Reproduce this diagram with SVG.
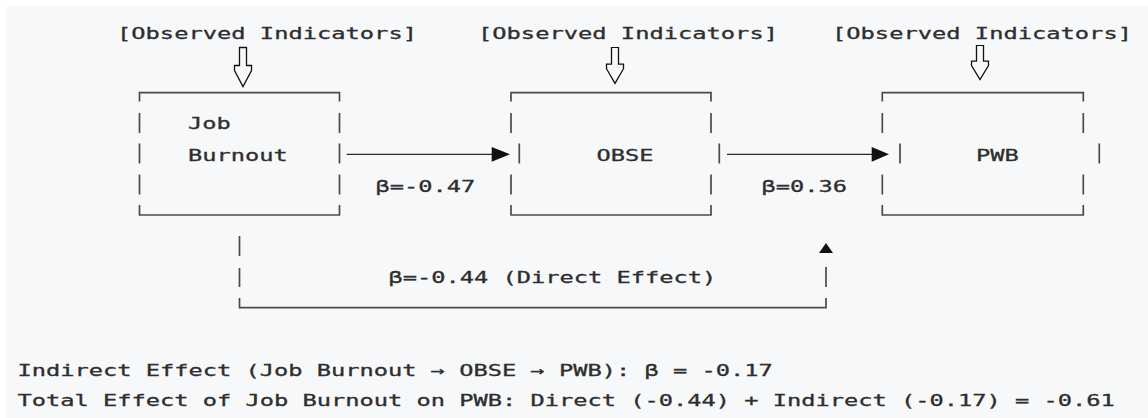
<svg xmlns="http://www.w3.org/2000/svg" width="1148" height="418" viewBox="0 0 1148 418">
<style>
.t{font-family:"DejaVu Sans Mono","Liberation Mono",monospace;font-size:16.3px;fill:#2e2e2e;stroke:#2e2e2e;stroke-width:0.3;}
.box{fill:none;stroke:#4a4a4a;stroke-width:1.7;}
.ind{fill:#f7f8fa;stroke:#111;stroke-width:1.3;stroke-linejoin:miter;}
.ln{fill:none;stroke:#2a2a2a;stroke-width:1.3;}
.head{fill:#111;stroke:none;}
</style>
<defs>
<path id="hollow" d="M-3.5,0 H3.5 V18 H8.5 V23 L0,39 L-8.5,23 V18 H-3.5 Z"/>
</defs>
<rect x="0" y="0" width="1148" height="418" fill="#ffffff"/>
<rect x="6" y="6" width="1142" height="412" fill="#f7f8fa"/>

<g id="node-jb">
<text class="t" x="117" y="38.5" textLength="300" lengthAdjust="spacingAndGlyphs">[Observed Indicators]</text>
<use href="#hollow" class="ind" transform="translate(243,47.5)"/>
<path class="box" d="M139.5,101.5 V92.7 H339.5 V101.5 M139.5,113 V133 M139.5,143.5 V163.5 M139.5,174.5 V194.5 M139.5,205 V215 H339.5 V205 M339.5,113 V133 M339.5,143.5 V163.5 M339.5,174.5 V194.5"/>
<text class="t" x="188" y="129" textLength="42.75" lengthAdjust="spacingAndGlyphs">Job</text>
<text class="t" x="188" y="161" textLength="99.75" lengthAdjust="spacingAndGlyphs">Burnout</text>
</g>

<g id="node-obse">
<text class="t" x="478" y="38.5" textLength="300" lengthAdjust="spacingAndGlyphs">[Observed Indicators]</text>
<use href="#hollow" class="ind" transform="translate(615,47.5) scale(1,0.92)"/>
<path class="box" d="M511,101.5 V92.7 H711 V101.5 M511,113 V133 M519.3,143.5 V163.5 M511,174.5 V194.5 M511,205 V215 H711 V205 M711,113 V133 M719.3,143.5 V163.5 M711,174.5 V194.5"/>
<text class="t" x="596.5" y="161" textLength="57" lengthAdjust="spacingAndGlyphs">OBSE</text>
</g>

<g id="node-pwb">
<text class="t" x="832" y="38.5" textLength="300" lengthAdjust="spacingAndGlyphs">[Observed Indicators]</text>
<use href="#hollow" class="ind" transform="translate(980,45.5) scale(1,0.87)"/>
<path class="box" d="M882.3,101.5 V92.7 H1083.3 V101.5 M882.3,113 V133 M900,143.5 V163.5 M882.3,174.5 V194.5 M882.3,205 V215 H1083.3 V205 M1083.3,113 V133 M1099.3,143.5 V163.5 M1083.3,174.5 V194.5"/>
<text class="t" x="976" y="161" textLength="42.75" lengthAdjust="spacingAndGlyphs">PWB</text>
</g>

<g id="connectors">
<g id="edge-jb-obse">
<path class="ln" d="M346.7,154.3 H494"/>
<path class="head" d="M491.7,147 L510,154.3 L491.7,161.7 Z"/>
<text class="t" x="375.5" y="192" textLength="99.75" lengthAdjust="spacingAndGlyphs">β=-0.47</text>
</g>
<g id="edge-obse-pwb">
<path class="ln" d="M727,154.3 H874"/>
<path class="head" d="M871.7,147 L889,154.3 L871.7,161.7 Z"/>
<text class="t" x="761.5" y="192" textLength="85.5" lengthAdjust="spacingAndGlyphs">β=0.36</text>
</g>
<g id="edge-jb-pwb">
<path class="box" d="M239.5,236 V256 M239.5,268 V287 M239.5,298 V307.7 H826 V298 M826,267 V287"/>
<path class="head" d="M826,243 L833,253 L819,253 Z"/>
<text class="t" x="388.5" y="283" textLength="327.75" lengthAdjust="spacingAndGlyphs">β=-0.44 (Direct Effect)</text>
</g>
</g>

<g id="notes">
<text class="t" x="17.5" y="376" textLength="755.25" lengthAdjust="spacingAndGlyphs">Indirect Effect (Job Burnout → OBSE → PWB): β = -0.17</text>
<text class="t" x="17.5" y="406" textLength="1097.25" lengthAdjust="spacingAndGlyphs">Total Effect of Job Burnout on PWB: Direct (-0.44) + Indirect (-0.17) = -0.61</text>
</g>
</svg>
